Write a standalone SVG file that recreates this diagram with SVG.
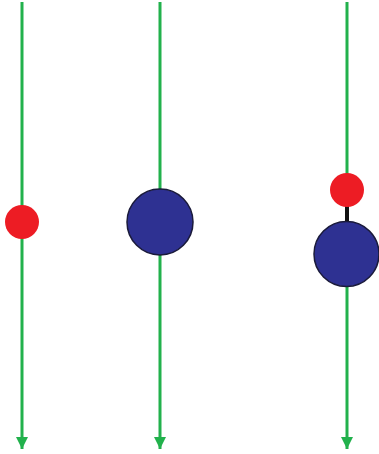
<svg xmlns="http://www.w3.org/2000/svg" width="379" height="454" viewBox="0 0 379 454">
<style>
.track{stroke:#22b14c;stroke-width:3;fill:none}
.small{fill:#ed1c24}
.big{fill:#2e3192;stroke:#1a1a3a;stroke-width:1.5}
.bond{stroke:#111;stroke-width:4}
</style>
<defs>
<marker id="arr" markerUnits="userSpaceOnUse" markerWidth="12" markerHeight="12" refX="10" refY="5" orient="auto" viewBox="0 0 10 10">
<path d="M0,0 L10,5 L0,10 Z" fill="#22b14c"/>
</marker>
</defs>
<g id="connectors">
<line class="track" x1="22" y1="2" x2="22" y2="449" marker-end="url(#arr)"/>
<line class="track" x1="160" y1="2" x2="160" y2="449" marker-end="url(#arr)"/>
<line class="track" x1="347" y1="2" x2="347" y2="449" marker-end="url(#arr)"/>
<line class="bond" x1="347" y1="205" x2="347" y2="224"/>
</g>
<g id="small1"><circle class="small" cx="22" cy="222" r="17"/></g>
<g id="big1"><circle class="big" cx="160" cy="222" r="33"/></g>
<g id="small2"><circle class="small" cx="347" cy="190" r="17"/></g>
<g id="big2"><circle class="big" cx="346.5" cy="254" r="32.5"/></g>
</svg>
